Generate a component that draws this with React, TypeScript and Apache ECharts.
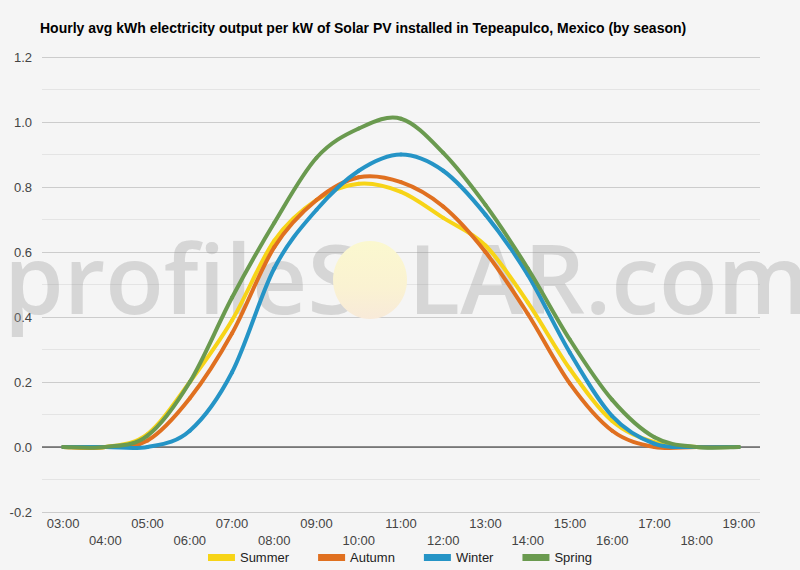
import React, { useEffect, useRef } from "react";
import * as echarts from "echarts";

const TITLE = "Hourly avg kWh electricity output per kW of Solar PV installed in Tepeapulco, Mexico (by season)";

const hours = ["03:00", "04:00", "05:00", "06:00", "07:00", "08:00", "09:00", "10:00", "11:00", "12:00", "13:00", "14:00", "15:00", "16:00", "17:00", "18:00", "19:00"];

const summer = [0, 0, 0.04, 0.2, 0.39, 0.635, 0.76, 0.81, 0.785, 0.705, 0.62, 0.445, 0.24, 0.08, 0.015, 0, 0];
const autumn = [0, 0, 0.02, 0.15, 0.35, 0.615, 0.76, 0.83, 0.815, 0.74, 0.6, 0.41, 0.195, 0.05, 0, 0, 0];
const winter = [0, 0, 0, 0.05, 0.23, 0.55, 0.73, 0.85, 0.9, 0.85, 0.715, 0.53, 0.29, 0.095, 0.01, 0, 0];
const spring = [0, 0, 0.035, 0.2, 0.46, 0.69, 0.89, 0.98, 1.01, 0.905, 0.745, 0.55, 0.33, 0.145, 0.03, 0, 0];

const seriesNames = ["Summer", "Autumn", "Winter", "Spring"];
const seriesData = [summer, autumn, winter, spring];
const colors = ["#f7d417", "#e07020", "#2594c6", "#6a9a4f"];

function smoothRender(values: number[], color: string) {
  return (params: any, api: any) => {
    if (params.dataIndex !== 0) return null;
    const pts = values.map((v, j) => api.coord([j, v]));
    const n = pts.length;
    const children: any[] = [];
    for (let k = 0; k < n - 1; k++) {
      const p0 = pts[Math.max(0, k - 1)];
      const p1 = pts[k];
      const p2 = pts[k + 1];
      const p3 = pts[Math.min(n - 1, k + 2)];
      children.push({
        type: "bezierCurve",
        shape: {
          x1: p1[0],
          y1: p1[1],
          cpx1: p1[0] + (p2[0] - p0[0]) / 6,
          cpy1: p1[1] + (p2[1] - p0[1]) / 6,
          cpx2: p2[0] - (p3[0] - p1[0]) / 6,
          cpy2: p2[1] - (p3[1] - p1[1]) / 6,
          x2: p2[0],
          y2: p2[1],
        },
        style: { stroke: color, lineWidth: 4, fill: "none", lineCap: "round" },
      });
    }
    return { type: "group", children };
  };
}

export default function App() {
  const ref = useRef<HTMLDivElement>(null);
  useEffect(() => {
    if (!ref.current) return;
    const chart = echarts.init(ref.current, undefined, { renderer: "svg" });
    const font = "Arial, 'Liberation Sans', sans-serif";
    const series: any[] = [
      {
        name: "zero",
        type: "custom",
        silent: true,
        z: 2,
        data: [[0, 0]],
        renderItem: (params: any, api: any) => {
          const cs = params.coordSys;
          const y = api.coord([0, 0])[1];
          return {
            type: "line",
            shape: { x1: cs.x, y1: y, x2: cs.x + cs.width, y2: y },
            style: { stroke: "#222", lineWidth: 1 },
          };
        },
      },
    ];
    seriesNames.forEach((name, i) => {
      series.push({
        name,
        type: "custom",
        z: 3,
        silent: true,
        data: seriesData[i].map((v, j) => [j, v]),
        itemStyle: { color: colors[i] },
        renderItem: smoothRender(seriesData[i], colors[i]),
      });
    });
    chart.setOption({
      animation: false,
      backgroundColor: "#f5f5f5",
      title: {
        text: TITLE,
        left: 35,
        top: 16,
        textStyle: { fontSize: 14, fontWeight: "bold", color: "#000", fontFamily: font },
      },
      graphic: [
        {
          type: "text",
          left: 4,
          top: 228,
          z: 1,
          silent: true,
          style: {
            text: "profileS",
            font: "600 96px 'Open Sans', sans-serif",
            fill: "rgba(150,150,150,0.32)",
          },
        },
        {
          type: "ellipse",
          z: 1,
          silent: true,
          shape: { cx: 370, cy: 280, rx: 37, ry: 39 },
          style: {
            fill: new echarts.graphic.LinearGradient(0, 0, 0, 1, [
              { offset: 0, color: "#fbf8cf" },
              { offset: 0.6, color: "#faf2d2" },
              { offset: 1, color: "#f8ead9" },
            ]),
          },
        },
        {
          type: "text",
          left: 408,
          top: 228,
          z: 1,
          silent: true,
          style: {
            text: "LAR.com",
            font: "600 96px 'Open Sans', sans-serif",
            fill: "rgba(150,150,150,0.32)",
          },
        },
      ],
      legend: {
        top: 546,
        left: "center",
        icon: "rect",
        itemWidth: 27,
        itemHeight: 7,
        itemGap: 29,
        data: seriesNames,
        textStyle: { fontSize: 13, color: "#222", fontFamily: font },
      },
      grid: { left: 42, right: 40, top: 57, bottom: 58 },
      xAxis: {
        type: "category",
        data: hours,
        boundaryGap: true,
        axisLine: { show: false },
        axisTick: { show: false },
        axisLabel: {
          interval: 0,
          margin: 3,
          color: "#444",
          fontSize: 13,
          lineHeight: 17,
          fontFamily: font,
          verticalAlign: "top",
          formatter: (v: string, i: number) => (i % 2 === 1 ? "\n" + v : v),
        },
      },
      yAxis: {
        type: "value",
        min: -0.2,
        max: 1.2,
        interval: 0.2,
        axisLine: { show: false },
        axisTick: { show: false },
        axisLabel: {
          color: "#444",
          fontSize: 13,
          margin: 10,
          fontFamily: font,
          formatter: (v: number) => v.toFixed(1),
        },
        splitLine: { lineStyle: { color: "#cccccc", width: 1 } },
        minorTick: { show: false, splitNumber: 2 },
        minorSplitLine: { show: true, lineStyle: { color: "#e4e4e4", width: 1 } },
      },
      series,
    });
    return () => chart.dispose();
  }, []);
  return (
    <div
      ref={ref}
      style={{ position: "absolute", left: 0, top: 0, width: 800, height: 570 }}
    />
  );
}
